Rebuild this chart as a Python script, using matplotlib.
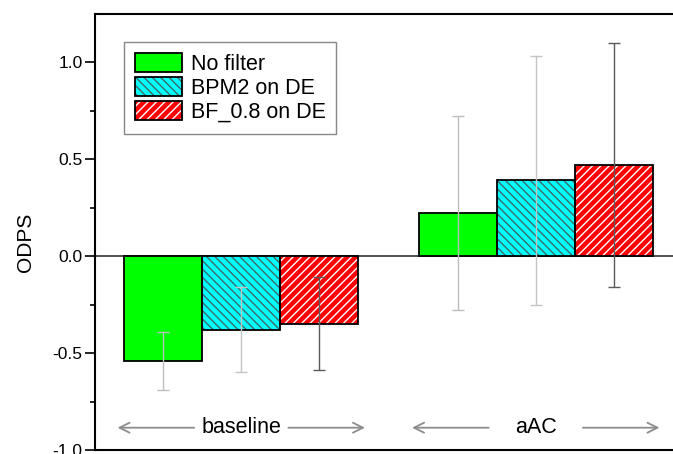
import matplotlib
matplotlib.use("Agg")
import matplotlib.pyplot as plt
from matplotlib.patches import Patch
from matplotlib.ticker import MultipleLocator, FormatStrFormatter
import numpy as np

plt.rcParams['font.family'] = ['Liberation Sans', 'DejaVu Sans']

groups = ["baseline", "aAC"]
series = ["No filter", "BPM2 on DE", "BF_0.8 on DE"]
values = {
    "No filter": [-0.54, 0.22],
    "BPM2 on DE": [-0.38, 0.39],
    "BF_0.8 on DE": [-0.35, 0.47],
}
errors = {
    "No filter": [0.15, 0.50],
    "BPM2 on DE": [0.22, 0.64],
    "BF_0.8 on DE": [0.24, 0.63],
}
face = {"No filter": "#00ff00", "BPM2 on DE": "#00ffff", "BF_0.8 on DE": "#ff0000"}
hatch = {"No filter": "", "BPM2 on DE": "\\\\\\\\", "BF_0.8 on DE": "////"}
hatch_col = {"No filter": "black", "BPM2 on DE": "#3a6a6a", "BF_0.8 on DE": "white"}
err_col = {"No filter": "#bdbdbd", "BPM2 on DE": "#c4c4c4", "BF_0.8 on DE": "#5a5a5a"}

fig = plt.figure(figsize=(6.73, 4.54), dpi=100)
ax = fig.add_axes([0.141, 0.0088, 0.859, 0.960])

x = np.arange(1, len(groups) + 1)
w = 0.265
handles = []
for i, s in enumerate(series):
    pos = x + (i - 1) * w
    ax.bar(pos, values[s], w, color=face[s], hatch=hatch[s] or None,
           edgecolor=hatch_col[s], linewidth=0, zorder=2)
    ax.bar(pos, values[s], w, color="none", edgecolor="black", linewidth=1.3, zorder=3)
    ax.errorbar(pos, values[s], yerr=errors[s], fmt="none", ecolor=err_col[s],
                elinewidth=1, capsize=4, capthick=1, zorder=4)
    h1 = Patch(facecolor=face[s], hatch=hatch[s] or None, edgecolor=hatch_col[s], linewidth=0)
    h2 = Patch(facecolor="none", edgecolor="black", linewidth=1.3)
    handles.append((h1, h2))

ax.axhline(0, color="#333333", linewidth=1.2, zorder=1)

ax.set_xlim(0.503, 2.466)
ax.set_ylim(-1.0, 1.247)
ax.set_xticks([])
ax.yaxis.set_major_locator(MultipleLocator(0.5))
ax.yaxis.set_minor_locator(MultipleLocator(0.25))
ax.yaxis.set_major_formatter(FormatStrFormatter("%.1f"))
ax.tick_params(axis="y", which="major", direction="out", length=7, width=1.2, labelsize=12.5, pad=2)
ax.tick_params(axis="y", which="minor", direction="out", length=3.5, width=1.2)
ax.set_ylabel("ODPS", fontsize=15)
ax.yaxis.set_label_coords(-0.104, 0.477)
for sp in ax.spines.values():
    sp.set_linewidth(1.5)
ax.spines["right"].set_visible(False)

# group labels with arrows
for g, xc in zip(groups, x):
    ax.text(xc, -0.885, g, ha="center", va="center", fontsize=15.5)
    ax.annotate("", xy=(xc - 0.42, -0.885), xytext=(xc - 0.16, -0.885),
                arrowprops=dict(arrowstyle="->", color="#8c8c8c", lw=1.3,
                                mutation_scale=18, shrinkA=0, shrinkB=0))
    ax.annotate("", xy=(xc + 0.42, -0.885), xytext=(xc + 0.16, -0.885),
                arrowprops=dict(arrowstyle="->", color="#8c8c8c", lw=1.3,
                                mutation_scale=18, shrinkA=0, shrinkB=0))

leg = ax.legend(handles, series, loc="upper left", bbox_to_anchor=(0.05, 0.936),
                borderaxespad=0, fontsize=15.5, fancybox=False, framealpha=1,
                edgecolor="#888888", handlelength=2.2, handleheight=1.0,
                labelspacing=0.1, handletextpad=0.4, borderpad=0.5)
leg.get_frame().set_linewidth(1.0)

fig.savefig("out.png", dpi=100)
